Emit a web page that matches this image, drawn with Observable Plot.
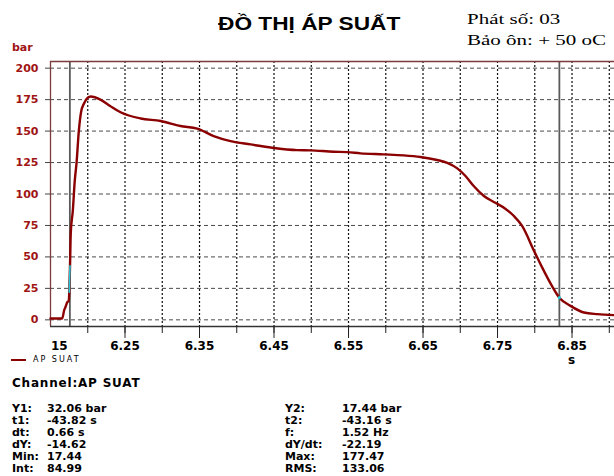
<!DOCTYPE html>
<html>
<head>
<meta charset="utf-8">
<script src="https://cdn.jsdelivr.net/npm/d3@7"></script>
<script src="https://cdn.jsdelivr.net/npm/@observablehq/plot@0.6"></script>
<style>
  html, body { margin: 0; padding: 0; background: #fff; }
  #wrap { position: relative; width: 614px; height: 476px; overflow: hidden; background: #fff; }
  #chart { position: absolute; left: 0; top: 0; }
  .t { position: absolute; white-space: nowrap; line-height: 1; transform-origin: left top; }
  .row { position: absolute; white-space: nowrap; line-height: 1; font-family: "DejaVu Sans"; font-weight: bold; font-size: 11px; color: #000; }
  .row span.lab { display: inline-block; }
</style>
</head>
<body>
<div id="wrap">
  <div id="chart"></div>
</div>
<script>
// ---- data ----
const tLine = [6.150, 6.1657, 6.1685, 6.1700, 6.1725, 6.1745, 6.1752, 6.1762, 6.1772, 6.1800, 6.1825, 6.1850,
  6.1880, 6.1910, 6.1950, 6.2000, 6.2040, 6.2170, 6.2300, 6.2440, 6.2710, 6.2980, 6.3245, 6.3470,
  6.3690, 6.3916, 6.4185, 6.4476, 6.4810, 6.4990, 6.5300, 6.5480, 6.5660, 6.5970, 6.6240, 6.6466,
  6.6690, 6.6825, 6.6960, 6.7070, 6.7180, 6.7317, 6.7470, 6.7600, 6.7720, 6.7830, 6.7990, 6.8100,
  6.8230, 6.8330, 6.8480, 6.8660, 6.8840, 6.9070];
const pLine = [1, 1, 8, 10, 14, 15, 22, 43, 69, 87, 110, 125,
  150, 165, 172, 176.5, 177.5, 175, 170, 165, 160, 158, 154, 152,
  146, 142, 139.4, 136.8, 134.9, 134.7, 133.6, 133.3, 132.3, 131.5, 130.7, 129.4,
  127, 124.8, 120.4, 114.3, 106.3, 98.4, 93, 88.5, 82.5, 74.6, 54.8, 41.5,
  27, 17.6, 11.1, 5.8, 4.5, 3.7];
const cyanT = [6.1752, 6.1762];
const cyanP = [22, 43];
const cursorT = [6.176, 6.833];
const cursorDotT = [6.833];
const cursorDotP = [17.6];
const xDomain = [6.15, 6.907];
const yDomain = [-5.3, 205.3];
const yTicks = [0, 25, 50, 75, 100, 125, 150, 175, 200];
const xGridTicks = [6.20, 6.25, 6.30, 6.35, 6.40, 6.45, 6.50, 6.55, 6.60, 6.65, 6.70, 6.75, 6.80, 6.85, 6.90];
const xLabelTicks = [6.25, 6.35, 6.45, 6.55, 6.65, 6.75, 6.85];
const xLabelText = ["6.25", "6.35", "6.45", "6.55", "6.65", "6.75", "6.85"];
const xFirstTick = [6.15];
const xFirstText = ["15"];
const statLabelsLeft = ["Y1:", "t1:", "dt:", "dY:", "Min:", "Int:"];
const statValuesLeft = ["32.06 bar", "-43.82 s", "0.66 s", "-14.62", "17.44", "84.99"];
const statLabelsRight = ["Y2:", "t2:", "f:", "dY/dt:", "Max:", "RMS:"];
const statValuesRight = ["17.44 bar", "-43.16 s", "1.52 Hz", "-22.19", "177.47", "133.06"];

const lineData = tLine.map((t, i) => ({t, p: pLine[i]}));
const cyanData = cyanT.map((t, i) => ({t, p: cyanP[i]}));
const dotData = cursorDotT.map((t, i) => ({t, p: cursorDotP[i]}));
const firstLabel = xFirstTick.map((t, i) => ({t, s: xFirstText[i]}));

const maroon = "#8b0000";
const axisRed = "#a01414";

const chart = Plot.plot({
  width: 614,
  height: 372,
  marginTop: 61,
  marginBottom: 46,
  marginLeft: 50,
  marginRight: 0,
  style: {background: "#fff", fontFamily: "DejaVu Sans", overflow: "visible"},
  x: {domain: xDomain},
  y: {domain: yDomain},
  marks: [
    Plot.gridY(yTicks, {stroke: "#4a4a4a", strokeOpacity: 1, strokeDasharray: "4,3", strokeWidth: 1}),
    Plot.gridX(xGridTicks, {stroke: "#111", strokeOpacity: 1, strokeDasharray: "2,2", strokeWidth: 1.2}),
    Plot.ruleX(cursorT, {stroke: "#5a5a5a", strokeWidth: 1.8}),
    Plot.ruleX([xDomain[0]], {stroke: "#7d3b3b", strokeWidth: 1.3}),
    Plot.ruleY([yDomain[1]], {stroke: "#7d3b3b", strokeWidth: 1.3}),
    Plot.ruleY([yDomain[0]], {stroke: "#333", strokeWidth: 1.3}),
    Plot.line(lineData, {x: "t", y: "p", stroke: maroon, strokeWidth: 2.4, curve: "monotone-x"}),
    Plot.line(cyanData, {x: "t", y: "p", stroke: "#22c8d8", strokeWidth: 1.6}),
    Plot.dot(dotData, {x: "t", y: "p", r: 1.6, fill: "#22c8d8", stroke: null}),
    Plot.axisY(yTicks, {tickSize: 5, tickPadding: 7, fontSize: 11, fontWeight: "bold", fill: axisRed, stroke: "#444", label: null, tickFormat: d => String(d)}),
    Plot.axisX(xGridTicks, {tickSize: 7, tickPadding: 2, tickFormat: () => "", stroke: "#222", label: null}),
    Plot.axisX(xLabelTicks, {tickSize: 12, tickPadding: 2.5, fontSize: 12, fontWeight: "bold", fill: "#000", stroke: "#222", label: null,
      tickFormat: d => xLabelText[xLabelTicks.indexOf(d)]}),
    Plot.text(firstLabel, {x: "t", text: "s", frameAnchor: "bottom", textAnchor: "start", lineAnchor: "top", dy: 14.5, dx: 0.5, fontSize: 12, fontWeight: "bold", fill: "#000"})
  ]
});
document.getElementById("chart").appendChild(chart);

// ---- texts ----
const wrap = document.getElementById("wrap");
function addText(txt, css) {
  const el = document.createElement("div");
  el.className = "t";
  el.textContent = txt;
  Object.assign(el.style, css);
  wrap.appendChild(el);
  return el;
}
addText("ĐỒ THỊ ÁP SUẤT", {left: "218px", top: "15px", fontFamily: "Liberation Sans", fontWeight: "bold", fontSize: "18px", transform: "scaleX(1.26)", color: "#000"});
addText("Phát số: 03", {left: "467px", top: "13px", fontFamily: "Liberation Serif", fontSize: "14px", transform: "scaleX(1.5)", color: "#000"});
addText("Bảo ôn: + 50 oC", {left: "467px", top: "34px", fontFamily: "Liberation Serif", fontSize: "14px", transform: "scaleX(1.5)", color: "#000"});
addText("bar", {left: "12px", top: "42px", fontFamily: "DejaVu Sans", fontWeight: "bold", fontSize: "11px", color: axisRed});
addText("s", {left: "568px", top: "354px", fontFamily: "DejaVu Sans", fontWeight: "bold", fontSize: "12px", color: "#000"});
// legend
const leg = document.createElement("div");
leg.className = "t";
Object.assign(leg.style, {left: "11px", top: "356px", fontFamily: "DejaVu Sans", fontSize: "8px", letterSpacing: "2px", color: "#000"});
leg.innerHTML = '<span style="display:inline-block;width:15px;height:2px;background:' + maroon + ';vertical-align:middle;margin-right:7px;"></span>';
leg.appendChild(document.createTextNode("AP SUAT"));
wrap.appendChild(leg);

addText("Channel:AP SUAT", {left: "12px", top: "377px", fontFamily: "DejaVu Sans", fontWeight: "bold", fontSize: "12px", letterSpacing: "0.8px", color: "#000"});

function addRow(lab, val, left, labW, top) {
  const el = document.createElement("div");
  el.className = "row";
  el.style.left = left + "px";
  el.style.top = top + "px";
  const l = document.createElement("span");
  l.className = "lab";
  l.style.minWidth = labW + "px";
  l.style.paddingRight = "2px";
  l.textContent = lab;
  el.appendChild(l);
  el.appendChild(document.createTextNode(val));
  wrap.appendChild(el);
}
const rowTop0 = 403, rowStep = 12;
statLabelsLeft.forEach((lab, i) => addRow(lab, statValuesLeft[i], 12, 33, rowTop0 + i * rowStep));
statLabelsRight.forEach((lab, i) => addRow(lab, statValuesRight[i], 285, 55, rowTop0 + i * rowStep));
</script>
</body>
</html>
